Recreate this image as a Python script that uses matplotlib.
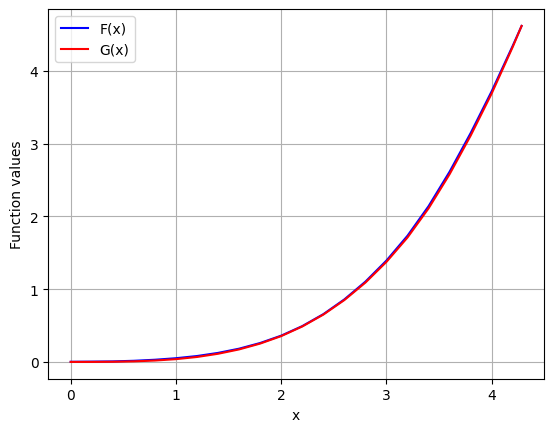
import matplotlib
matplotlib.use("Agg")
import matplotlib.pyplot as plt

# values
x_vals = [0.0, 0.2, 0.4, 0.6, 0.8, 1.0, 1.2, 1.4, 1.6, 1.8, 2.0, 2.2,
          2.4, 2.6, 2.8, 3.0, 3.2, 3.4, 3.6, 3.8, 4.0, 4.2, 4.284]
f_vals = [0.002, 0.0043, 0.0072, 0.0157, 0.030, 0.051, 0.081, 0.124,
          0.182, 0.260, 0.361, 0.492, 0.656, 0.859, 1.103, 1.393, 1.734,
          2.14, 2.614, 3.145, 3.72, 4.345, 4.617]
g_vals = [0.0, 0.0003, 0.0022, 0.0077, 0.019, 0.038, 0.068, 0.112,
          0.172, 0.252, 0.355, 0.487, 0.650, 0.850, 1.090, 1.375, 1.71,
          2.11, 2.58, 3.11, 3.69, 4.33, 4.617]

plt.figure(figsize=(6.4, 4.8), dpi=100)
plt.plot(x_vals, f_vals, color="blue", label="F(x)")
plt.plot(x_vals, g_vals, color="red", label="G(x)")
plt.xlabel("x")
plt.ylabel("Function values")
plt.legend()
plt.grid(True)
plt.savefig("out.png", dpi=100, bbox_inches="tight")
